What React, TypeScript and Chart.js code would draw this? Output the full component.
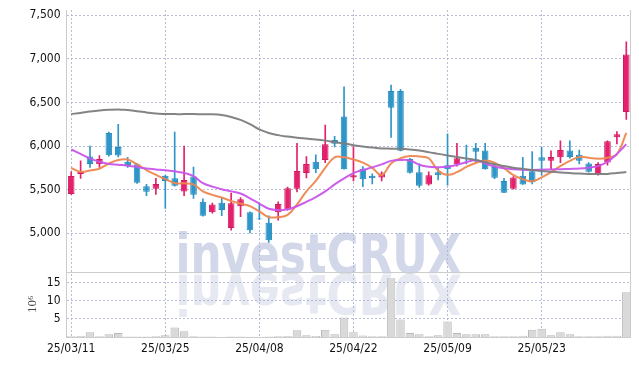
import React, { useEffect, useRef } from "react";
import { Chart, registerables } from "chart.js";
Chart.register(...registerables);

const dates = [
  "25/03/11","25/03/12","25/03/13","25/03/14","25/03/17","25/03/18","25/03/19","25/03/20","25/03/21","25/03/24",
  "25/03/25","25/03/26","25/03/27","25/03/28","25/03/31","25/04/01","25/04/02","25/04/03","25/04/04","25/04/07",
  "25/04/08","25/04/09","25/04/10","25/04/11","25/04/14","25/04/15","25/04/16","25/04/17","25/04/18","25/04/21",
  "25/04/22","25/04/23","25/04/24","25/04/25","25/04/28","25/04/29","25/04/30","25/05/02","25/05/07","25/05/08",
  "25/05/09","25/05/12","25/05/13","25/05/14","25/05/15","25/05/16","25/05/19","25/05/20","25/05/21","25/05/22",
  "25/05/23","25/05/26","25/05/27","25/05/28","25/05/29","25/05/30","25/06/02","25/06/04","25/06/05","25/06/09",
];

const opens = [
  5450,5680,5880,5790,6150,5990,5820,5790,5540,5510,
  5660,5630,5480,5650,5360,5240,5350,5060,5310,5240,
  5170,5120,5240,5270,5510,5690,5820,5840,6070,6340,
  5640,5740,5660,5640,6630,6630,5850,5700,5560,5700,
  5780,5790,5930,5980,5950,5760,5600,5510,5660,5710,
  5870,5830,5870,5950,5900,5800,5680,5810,6100,6390,
];
const highs = [
  5705,5830,6000,5890,6160,6250,5870,5800,5560,5630,
  5665,6160,6000,5760,5395,5345,5410,5460,5410,5245,
  5345,5200,5360,5530,6030,5880,5900,6240,6110,6680,
  5990,5765,5680,5705,6700,6650,5860,5795,5705,5745,
  6140,6030,6010,6030,6030,5795,5630,5650,5870,5935,
  5985,5945,6060,6060,5955,5810,5810,6060,6165,7195,
];
const lows = [
  5445,5630,5755,5755,5885,5875,5755,5570,5430,5445,
  5285,5540,5430,5400,5195,5230,5200,5035,5190,5005,
  5155,4895,5150,5265,5475,5635,5695,5810,5990,5735,
  5600,5535,5565,5600,6100,5945,5690,5525,5550,5610,
  5550,5770,5795,5820,5735,5625,5465,5505,5560,5565,
  5665,5740,5810,5860,5795,5700,5665,5780,6025,6305,
];
const closes = [
  5655,5705,5795,5850,5895,5890,5770,5580,5475,5565,
  5600,5545,5610,5440,5200,5330,5265,5345,5390,5035,
  5160,4920,5335,5515,5715,5795,5735,6020,6025,5735,
  5665,5620,5630,5685,6440,5945,5695,5545,5665,5665,
  5735,5860,5925,5935,5735,5635,5465,5640,5560,5585,
  5830,5875,5955,5875,5830,5705,5795,6055,6135,7050,
];

const volumes = [
  0.2,0.3,1.3,0.2,0.75,1.1,0.15,0.15,0.15,0.2,
  0.45,2.6,1.6,0.2,0.15,0.15,0.1,0.15,0.15,0.1,
  0.1,0.15,0.2,0.3,1.85,0.45,0.3,2.0,0.75,5.4,
  1.3,0.4,0.2,0.2,16.2,4.8,1.1,0.75,0.2,0.45,
  4.25,1.1,0.75,0.75,0.75,0.2,0.2,0.2,0.35,2.0,
  2.3,0.45,1.3,0.75,0.2,0.2,0.2,0.35,0.35,12.3,
];

const ma5 = [
  5750,5705,5720,5740,5800,5840,5845,5790,5725,5670,
  5620,5575,5572,5560,5480,5440,5410,5370,5340,5310,
  5250,5185,5185,5210,5330,5480,5600,5750,5870,5870,
  5845,5810,5750,5667,5800,5860,5885,5880,5860,5720,
  5670,5700,5760,5805,5835,5810,5745,5667,5620,5595,
  5640,5700,5770,5830,5875,5865,5855,5865,5905,6150,
];
const ma20 = [
  5960,5910,5855,5820,5795,5785,5775,5760,5742,5732,
  5722,5710,5690,5655,5575,5535,5505,5480,5455,5400,
  5340,5280,5265,5275,5310,5360,5415,5480,5560,5630,
  5690,5725,5755,5790,5830,5840,5835,5785,5762,5758,
  5763,5785,5815,5838,5800,5765,5745,5735,5728,5725,
  5728,5732,5735,5738,5742,5752,5770,5820,5910,6020,
];
const ma60 = [
  6367,6380,6395,6407,6415,6420,6412,6400,6385,6372,
  6368,6366,6366,6366,6365,6364,6355,6333,6300,6252,
  6190,6150,6125,6108,6095,6085,6075,6062,6045,6030,
  6010,5995,5982,5972,5970,5968,5960,5948,5930,5910,
  5892,5875,5857,5840,5815,5790,5770,5752,5738,5725,
  5713,5705,5697,5690,5684,5680,5678,5680,5690,5702,
];

const priceTicks = [5000, 5500, 6000, 6500, 7000, 7500];
const volumeTicks = [5, 10, 15];
const labelEvery = 10;

const UP = "#e5206c";
const UP_BORDER = "#cf1a5e";
const DOWN = "#2e96c9";
const DOWN_BORDER = "#2a8bbb";
const GRID = "rgba(172,178,208,0.85)";
const AXIS = "#cdcdcd";
const TICK_FONT = "'DejaVu Sans Condensed', 'DejaVu Sans', sans-serif";

const watermark = {
  id: "watermark",
  beforeDraw(chart: any) {
    const { ctx, chartArea, scales } = chart;
    const base = scales.y.bottom + 1;
    const left = chartArea.left + 109;
    const targetW = 286;
    ctx.save();
    ctx.font = "bold 56px 'DejaVu Sans Condensed', 'DejaVu Sans', sans-serif";
    ctx.textBaseline = "alphabetic";
    ctx.textAlign = "left";
    const w = ctx.measureText("investCRUX").width;
    ctx.translate(left, base);
    ctx.scale(targetW / w, 1);
    ctx.fillStyle = "#d2d7e9";
    ctx.fillText("investCRUX", 0, 0);
    ctx.translate(0, 2);
    ctx.scale(1, -1);
    ctx.fillStyle = "#e7e9f2";
    ctx.fillText("investCRUX", 0, 0);
    ctx.restore();
  },
};

const panelLines = {
  id: "panelLines",
  beforeDatasetsDraw(chart: any) {
    const { ctx, chartArea, scales } = chart;
    ctx.save();
    ctx.strokeStyle = AXIS;
    ctx.lineWidth = 1;
    ctx.beginPath();
    const y = Math.round(scales.v.top) + 0.5;
    ctx.moveTo(chartArea.left, y);
    ctx.lineTo(chartArea.right, y);
    const x = Math.round(chartArea.right) - 0.5;
    ctx.moveTo(x, chartArea.top);
    ctx.lineTo(x, chartArea.bottom);
    ctx.stroke();
    ctx.restore();
  },
};

const noPad = (s: any) => {
  s.paddingTop = 0;
  s.paddingBottom = 0;
  s.paddingLeft = 0;
  s.paddingRight = 0;
};

export default function App() {
  const ref = useRef<HTMLCanvasElement | null>(null);

  useEffect(() => {
    if (!ref.current) return;
    const up = closes.map((c, i) => c >= opens[i]);
    const fill = up.map((u) => (u ? UP : DOWN));
    const border = up.map((u) => (u ? UP_BORDER : DOWN_BORDER));

    const chart = new Chart(ref.current, {
      type: "bar",
      data: {
        labels: dates,
        datasets: [
          {
            type: "line",
            label: "MA60",
            data: ma60,
            yAxisID: "y",
            borderColor: "rgba(125,125,125,0.95)",
            borderWidth: 2,
            pointRadius: 0,
            tension: 0.4,
            order: 0,
          },
          {
            type: "line",
            label: "MA20",
            data: ma20,
            yAxisID: "y",
            borderColor: "rgba(200,85,235,0.95)",
            borderWidth: 2,
            pointRadius: 0,
            tension: 0.4,
            order: 0,
          },
          {
            type: "line",
            label: "MA5",
            data: ma5,
            yAxisID: "y",
            borderColor: "rgba(238,135,80,0.95)",
            borderWidth: 2,
            pointRadius: 0,
            tension: 0.4,
            order: 0,
          },
          {
            type: "bar",
            label: "wick",
            data: lows.map((l, i) => [l, highs[i]]),
            yAxisID: "y",
            backgroundColor: fill,
            barThickness: 1,
            grouped: false,
            order: 2,
          },
          {
            type: "bar",
            label: "body",
            data: opens.map((o, i) => [o, closes[i]]),
            yAxisID: "y",
            backgroundColor: fill,
            borderColor: border,
            borderWidth: 1,
            borderSkipped: false,
            barPercentage: 0.7,
            categoryPercentage: 1,
            grouped: false,
            order: 1,
          },
          {
            type: "bar",
            label: "volume",
            data: volumes,
            yAxisID: "v",
            backgroundColor: "#d9d9d9",
            borderColor: "#b9b9b9",
            borderWidth: 1,
            barPercentage: 0.9,
            categoryPercentage: 1,
            grouped: false,
            order: 3,
          },
        ],
      } as any,
      options: {
        animation: false,
        responsive: true,
        maintainAspectRatio: false,
        layout: { padding: { left: 13, top: 2, right: 0, bottom: 0 } },
        plugins: { legend: { display: false }, tooltip: { enabled: false } },
        scales: {
          x: {
            type: "category",
            offset: true,
            grid: { offset: false, color: GRID, drawTicks: false },
            border: { color: AXIS, dash: [2, 2] },
            ticks: {
              autoSkip: false,
              maxRotation: 0,
              padding: 5,
              color: "#111",
              font: { family: TICK_FONT, size: 12 },
              callback: (_v: any, i: number) => (i % labelEvery === 0 ? dates[i] : null),
            },
            afterFit: (s: any) => {
              noPad(s);
              s.height = 21;
            },
          },
          y: {
            type: "linear",
            position: "left",
            stack: "panels",
            stackWeight: 4,
            weight: 1,
            min: 4560,
            max: 7560,
            afterBuildTicks: (s: any) => {
              s.ticks = priceTicks.map((value) => ({ value }));
            },
            grid: { color: GRID, drawTicks: false },
            border: { color: AXIS, dash: [2, 2] },
            ticks: {
              padding: 6,
              color: "#111",
              font: { family: TICK_FONT, size: 12 },
              callback: (v: any) => Number(v).toLocaleString("en-US"),
            },
            afterFit: (s: any) => {
              noPad(s);
              s.width = 45.5;
            },
          },
          v: {
            type: "linear",
            position: "left",
            stack: "panels",
            stackWeight: 1,
            weight: 0,
            min: 0,
            max: 18,
            afterBuildTicks: (s: any) => {
              s.ticks = volumeTicks.map((value) => ({ value }));
            },
            grid: { color: GRID, drawTicks: false },
            border: { color: AXIS, dash: [2, 2] },
            title: {
              display: true,
              text: "10\u2076",
              color: "#444",
              font: { family: "'Liberation Serif', 'DejaVu Serif', serif", size: 13 },
              padding: { top: 4, bottom: 4 },
            },
            ticks: {
              padding: 6,
              color: "#111",
              font: { family: TICK_FONT, size: 12 },
            },
            afterFit: (s: any) => {
              noPad(s);
              s.width = 45.5;
            },
          },
        },
      } as any,
      plugins: [watermark, panelLines],
    });
    return () => chart.destroy();
  }, []);

  return (
    <div style={{ width: 623, height: 350, position: "relative" }}>
      <canvas ref={ref} />
    </div>
  );
}
